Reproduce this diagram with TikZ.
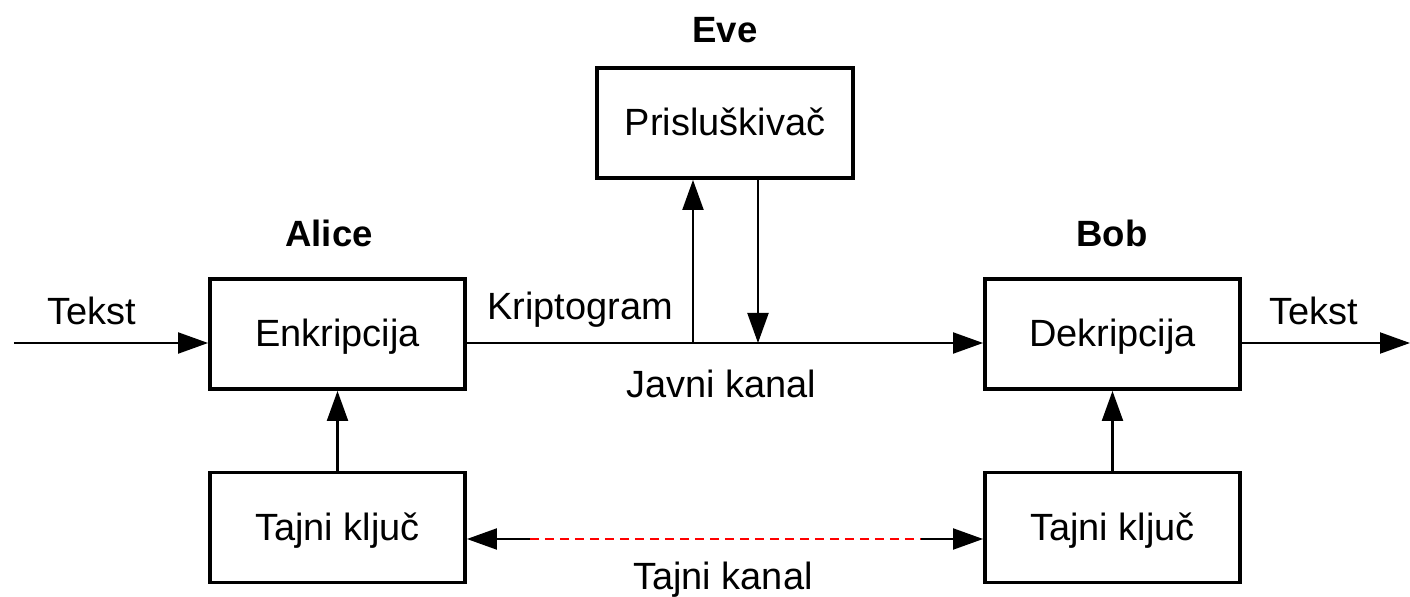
\documentclass[tikz,border=0pt]{standalone}
\usepackage{fontspec}
\setmainfont{Liberation Sans}
\usetikzlibrary{arrows.meta}

\begin{document}
\begin{tikzpicture}[
  blk/.style={draw=black, line width=1.1pt, rectangle,
              minimum width=2.55cm, minimum height=1.10cm,
              inner sep=0pt, font=\fontsize{10.8}{13}\selectfont,
              text height=7.2pt, text depth=0pt},
  who/.style={font=\fontsize{10.4}{12}\selectfont\bfseries, anchor=base,
              inner sep=0pt},
  lbl/.style={font=\fontsize{10.8}{13}\selectfont, anchor=base,
              inner sep=0pt},
  arr/.style={-{Triangle[length=3mm, width=2.1mm]}, line width=0.6pt, black},
  secret/.style={line width=0.6pt, red, dash pattern=on 0.09cm off 0.06cm},
]
\def\ly{2.54}  % public channel line
\def\ky{0.58}  % secret channel line
% Fix bounding box to the picture area
\useasboundingbox (0,0) rectangle (14.10,5.97);
% Boxes
\node[blk] (enc)  at (3.375, 2.63) {Enkripcija};
\node[blk] (dec)  at (11.125,2.63) {Dekripcija};
\node[blk, minimum width=2.56cm] (eve) at (7.25, 4.74) {Prisluškivač};
\node[blk] (keyA) at (3.375, 0.695) {Tajni ključ};
\node[blk] (keyB) at (11.125,0.695) {Tajni ključ};
% Names above boxes
\node[who] (alice) at (3.29, 3.50) {Alice};
\node[who] (evename) at (7.25, 5.54) {Eve};
\node[who] (bob) at (11.12, 3.50) {Bob};
% Channel labels
\node[lbl] (tin)   at (0.92, 2.72) {Tekst};
\node[lbl] (tout)  at (13.14,2.72) {Tekst};
\node[lbl] (krip)  at (5.80, 2.77) {Kriptogram};
\node[lbl] (javni) at (7.21, 1.99) {Javni kanal};
\node[lbl] (tajni) at (7.23, 0.07) {Tajni kanal};
% Line end points
\coordinate (src) at (0.14, \ly);
\coordinate (snk) at (14.10, \ly);
\coordinate (tap) at (6.93, \ly);
\coordinate (inj) at (7.58, \ly);
\coordinate (d1)  at (5.30, \ky);
\coordinate (d2)  at (9.21, \ky);
% Public channel
\draw[arr] (src) -- (src -| enc.west);
\draw[arr] (src -| enc.east) -- (src -| dec.west);
\draw[arr] (snk -| dec.east) -- (snk);
% Eavesdropper taps the line
\draw[arr] (tap) -- (tap |- eve.south);
\draw[arr] (inj |- eve.south) -- (inj);
% Keys into the boxes
\draw[arr] (keyA.north) -- (enc.south);
\draw[arr] (keyB.north) -- (dec.south);
% Secret channel
\draw[arr] (d1) -- (d1 -| keyA.east);
\draw[arr] (d2) -- (d2 -| keyB.west);
\draw[secret] (d1) -- (d2);
\end{tikzpicture}
\end{document}
